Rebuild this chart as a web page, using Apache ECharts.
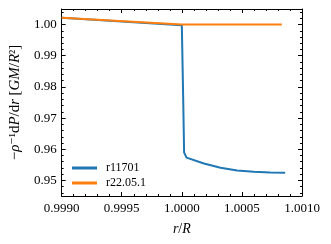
<!DOCTYPE html>
<html>
<head>
<meta charset="utf-8">
<script src="https://cdn.jsdelivr.net/npm/echarts@6/dist/echarts.min.js"></script>
<style>html,body{margin:0;padding:0;background:#fff}#c{width:331px;height:244px}</style>
</head>
<body>
<div id="c"></div>
<script>
// Data
const seriesNames = ['r11701', 'r22.05.1'];
const r11701 = [
  [0.9990, 1.0022], [1.00000, 0.9998], [1.000012, 0.9750], [1.000019, 0.9590],
  [1.000039, 0.9573], [1.000184, 0.95545], [1.000322, 0.95407], [1.000460, 0.95321],
  [1.000598, 0.95279], [1.000736, 0.95256], [1.000860, 0.95247]
];
const r22051 = [
  [0.9990, 1.0022], [1.00000, 1.0000], [1.000832, 1.0000]
];
const xRange = [0.9990, 1.0010];
const yRange = [0.945, 1.005];

const FONT = '"Liberation Serif","DejaVu Serif",serif';
const axisCommon = {
  axisLine: { lineStyle: { color: '#000', width: 1 } },
  axisTick: { inside: true, length: 4, lineStyle: { color: '#000' } },
  minorTick: { show: true, splitNumber: 5, length: 2, lineStyle: { color: '#000' } },
  splitLine: { show: false },
  minorSplitLine: { show: false }
};
const richX = {
  i: { fontStyle: 'italic', fontFamily: FONT, fontSize: 14, color: '#000' },
  n: { fontFamily: FONT, fontSize: 14, color: '#000' }
};
const richY = {
  i: { fontStyle: 'italic', fontFamily: FONT, fontSize: 15, color: '#000' },
  n: { fontFamily: FONT, fontSize: 15, color: '#000' },
  s: { fontFamily: FONT, fontSize: 14, color: '#000' }
};

const chart = echarts.init(document.getElementById('c'), null, { renderer: 'canvas' });
chart.setOption({
  animation: false,
  backgroundColor: '#fff',
  grid: { left: 60, right: 29, top: 9, bottom: 48 },
  legend: {
    orient: 'vertical', left: 67, top: 157, itemWidth: 25, itemHeight: 3, itemGap: 3,
    icon: 'rect',
    textStyle: { fontFamily: FONT, fontSize: 12, color: '#000', padding: [0, 0, 0, 4] },
    data: seriesNames
  },
  xAxis: [
    Object.assign({}, axisCommon, {
      type: 'value', min: xRange[0], max: xRange[1], interval: 0.0005,
      axisLabel: { margin: 6, fontFamily: FONT, fontSize: 13, color: '#000', formatter: v => v.toFixed(4) },
      name: '{i|r}{n|/}{i|R}', nameLocation: 'middle', nameGap: 26,
      nameTextStyle: { rich: richX }
    }),
    Object.assign({}, axisCommon, {
      type: 'value', position: 'top', min: xRange[0], max: xRange[1], interval: 0.0005,
      axisLabel: { show: false }
    })
  ],
  yAxis: [
    Object.assign({}, axisCommon, {
      type: 'value', min: yRange[0], max: yRange[1],
      axisLabel: { margin: 5, fontFamily: FONT, fontSize: 13, color: '#000',
        showMinLabel: false, showMaxLabel: false, formatter: v => v.toFixed(2) },
      name: '{n|−}{i|ρ}{s|⁻¹}{n|d}{i|P}{n|/d}{i|r} {n|[}{i|GM}{n|/}{i|R}{s|²}{n|]}',
      nameLocation: 'middle', nameGap: 35, nameRotate: 90,
      nameTextStyle: { rich: richY }
    }),
    Object.assign({}, axisCommon, {
      type: 'value', position: 'right', min: yRange[0], max: yRange[1],
      axisLabel: { show: false }
    })
  ],
  series: [
    { name: seriesNames[0], type: 'line', data: r11701, showSymbol: false, symbol: 'none',
      lineStyle: { color: '#1f77b4', width: 2 }, itemStyle: { color: '#1f77b4' } },
    { name: seriesNames[1], type: 'line', data: r22051, showSymbol: false, symbol: 'none',
      lineStyle: { color: '#ff7f0e', width: 2 }, itemStyle: { color: '#ff7f0e' } }
  ]
});
</script>
</body>
</html>
